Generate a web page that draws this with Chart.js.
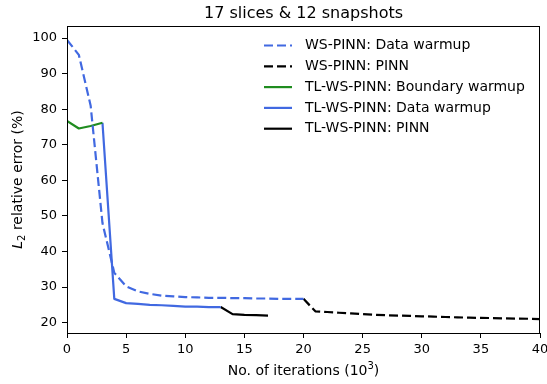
<!DOCTYPE html>
<html>
<head>
<meta charset="utf-8">
<script src="https://cdn.jsdelivr.net/npm/chart.js@4/dist/chart.umd.min.js"></script>
<style>
html,body{margin:0;padding:0;background:#fff;}
#wrap{width:547px;height:384px;position:relative;}
</style>
</head>
<body>
<div id="wrap"><canvas id="c" width="547" height="384"></canvas></div>
<script>
// ---- data ----
const titleText = "17 slices & 12 snapshots";
const xTickValues = [0, 5, 10, 15, 20, 25, 30, 35, 40];
const yTickValues = [20, 30, 40, 50, 60, 70, 80, 90, 100];

const wsWarmupIters = [0,1,2,3,4,5,6,7,8,9,10,11,12,13,14,15,16,17,18,19,20];
const wsWarmupErr   = [99.5,95.3,81,48,34,30.2,28.8,28.1,27.6,27.4,27.2,27.1,27.0,27.0,26.9,26.9,26.8,26.8,26.7,26.7,26.7];

const wsPinnIters = [20,21,22,23,24,25,26,27,28,29,30,31,32,33,34,35,36,37,38,39,40];
const wsPinnErr   = [26.7,23.2,23.0,22.8,22.6,22.4,22.2,22.1,22.0,21.9,21.8,21.7,21.6,21.5,21.4,21.35,21.3,21.2,21.15,21.1,21.0];

const tlBoundIters = [0,1,2,3];
const tlBoundErr   = [76.7,74.6,75.3,76.2];

const tlDataIters = [3,4,5,6,7,8,9,10,11,12,13];
const tlDataErr   = [76.2,26.7,25.5,25.3,25.0,24.9,24.7,24.5,24.5,24.4,24.4];

const tlPinnIters = [13,14,15,16,17];
const tlPinnErr   = [24.4,22.4,22.2,22.1,22.0];

const seriesLabels = ["WS-PINN: Data warmup","WS-PINN: PINN","TL-WS-PINN: Boundary warmup","TL-WS-PINN: Data warmup","TL-WS-PINN: PINN"];

// ---- build ----
const BLUE = "#4169e1", BLACK = "#000000", GREEN = "#1f8c1f";
const FONT = "'DejaVu Sans', sans-serif";
function pts(xs, ys){ return xs.map((x,i)=>({x:x, y:ys[i]})); }
function ds(label, data, color, dashed){
  return {label, data, borderColor: color, backgroundColor: color, borderWidth: 2.2,
    borderDash: dashed ? [9,4] : [], pointRadius: 0, tension: 0, fill: false,
    borderCapStyle: 'butt', borderJoinStyle: 'round'};
}
const datasets = [
  ds(seriesLabels[0], pts(wsWarmupIters, wsWarmupErr), BLUE, true),
  ds(seriesLabels[1], pts(wsPinnIters, wsPinnErr), BLACK, true),
  ds(seriesLabels[2], pts(tlBoundIters, tlBoundErr), GREEN, false),
  ds(seriesLabels[3], pts(tlDataIters, tlDataErr), BLUE, false),
  ds(seriesLabels[4], pts(tlPinnIters, tlPinnErr), BLACK, false)
];

const decor = {
  id: 'decor',
  afterDraw(chart){
    const ctx = chart.ctx, a = chart.chartArea;
    ctx.save();
    // frame
    ctx.strokeStyle = '#000'; ctx.lineWidth = 1;
    ctx.strokeRect(a.left + 0.5, a.top + 0.5, a.right - a.left - 1, a.bottom - a.top);
    // title
    ctx.fillStyle = '#000';
    ctx.font = "16px " + FONT;
    ctx.textAlign = 'center'; ctx.textBaseline = 'alphabetic';
    ctx.fillText(titleText, (a.left + a.right) / 2, 18);
    // x axis title
    ctx.font = "14px " + FONT;
    const xt = "No. of iterations (10", sup = "3", xt2 = ")";
    ctx.textAlign = 'left';
    const w1 = ctx.measureText(xt).width;
    ctx.font = "10px " + FONT; const ws = ctx.measureText(sup).width;
    ctx.font = "14px " + FONT; const w2 = ctx.measureText(xt2).width;
    let x0 = (a.left + a.right) / 2 - (w1 + ws + w2) / 2;
    const yb = 375;
    ctx.fillText(xt, x0, yb);
    ctx.font = "10px " + FONT; ctx.fillText(sup, x0 + w1, yb - 6);
    ctx.font = "14px " + FONT; ctx.fillText(xt2, x0 + w1 + ws, yb);
    // y axis title (rotated)
    ctx.save();
    ctx.translate(22, (a.top + a.bottom) / 2);
    ctx.rotate(-Math.PI / 2);
    const p1 = "L", p2 = "2", p3 = " relative error (%)";
    ctx.font = "italic 14px " + FONT; const l1 = ctx.measureText(p1).width;
    ctx.font = "10px " + FONT; const l2 = ctx.measureText(p2).width;
    ctx.font = "14px " + FONT; const l3 = ctx.measureText(p3).width;
    let s = -(l1 + l2 + l3) / 2;
    ctx.font = "italic 14px " + FONT; ctx.fillText(p1, s, 0);
    ctx.font = "10px " + FONT; ctx.fillText(p2, s + l1, 3);
    ctx.font = "14px " + FONT; ctx.fillText(p3, s + l1 + l2, 0);
    ctx.restore();
    // legend
    ctx.font = "14px " + FONT;
    ctx.textBaseline = 'middle'; ctx.textAlign = 'left';
    chart.data.datasets.forEach((d, i) => {
      const y = 45.5 + i * 20.8;
      ctx.beginPath();
      ctx.strokeStyle = d.borderColor; ctx.lineWidth = 2.2;
      ctx.setLineDash(d.borderDash.length ? [9,4] : []);
      ctx.lineCap = 'butt';
      ctx.moveTo(264, y); ctx.lineTo(292, y); ctx.stroke();
      ctx.setLineDash([]);
      ctx.fillStyle = '#000';
      ctx.fillText(d.label, 305, y);
    });
    ctx.restore();
  }
};

new Chart(document.getElementById('c'), {
  type: 'line',
  data: { datasets },
  plugins: [decor],
  options: {
    responsive: false, animation: false,
    layout: { padding: { left: 0, right: 7, top: 26, bottom: 0 } },
    plugins: { legend: { display: false }, title: { display: false }, tooltip: { enabled: false } },
    scales: {
      x: {
        type: 'linear', min: 0, max: 40,
        afterBuildTicks: s => { s.ticks = xTickValues.map(v => ({ value: v })); },
        afterFit: s => { s.height = 51; s.paddingLeft = 0; s.paddingRight = 0; },
        grid: { display: true, drawOnChartArea: false, drawTicks: true, tickLength: 5, tickColor: '#000', tickWidth: 1 },
        border: { display: false },
        ticks: { color: '#000', padding: 4, font: { family: FONT, size: 13 }, maxRotation: 0 }
      },
      y: {
        type: 'linear', min: 17.1, max: 103.4,
        afterBuildTicks: s => { s.ticks = yTickValues.map(v => ({ value: v })); },
        afterFit: s => { s.width = 67; s.paddingTop = 0; s.paddingBottom = 0; },
        grid: { display: true, drawOnChartArea: false, drawTicks: true, tickLength: 5, tickColor: '#000', tickWidth: 1 },
        border: { display: false },
        ticks: { color: '#000', padding: 5, font: { family: FONT, size: 13 } }
      }
    }
  }
});
</script>
</body>
</html>
